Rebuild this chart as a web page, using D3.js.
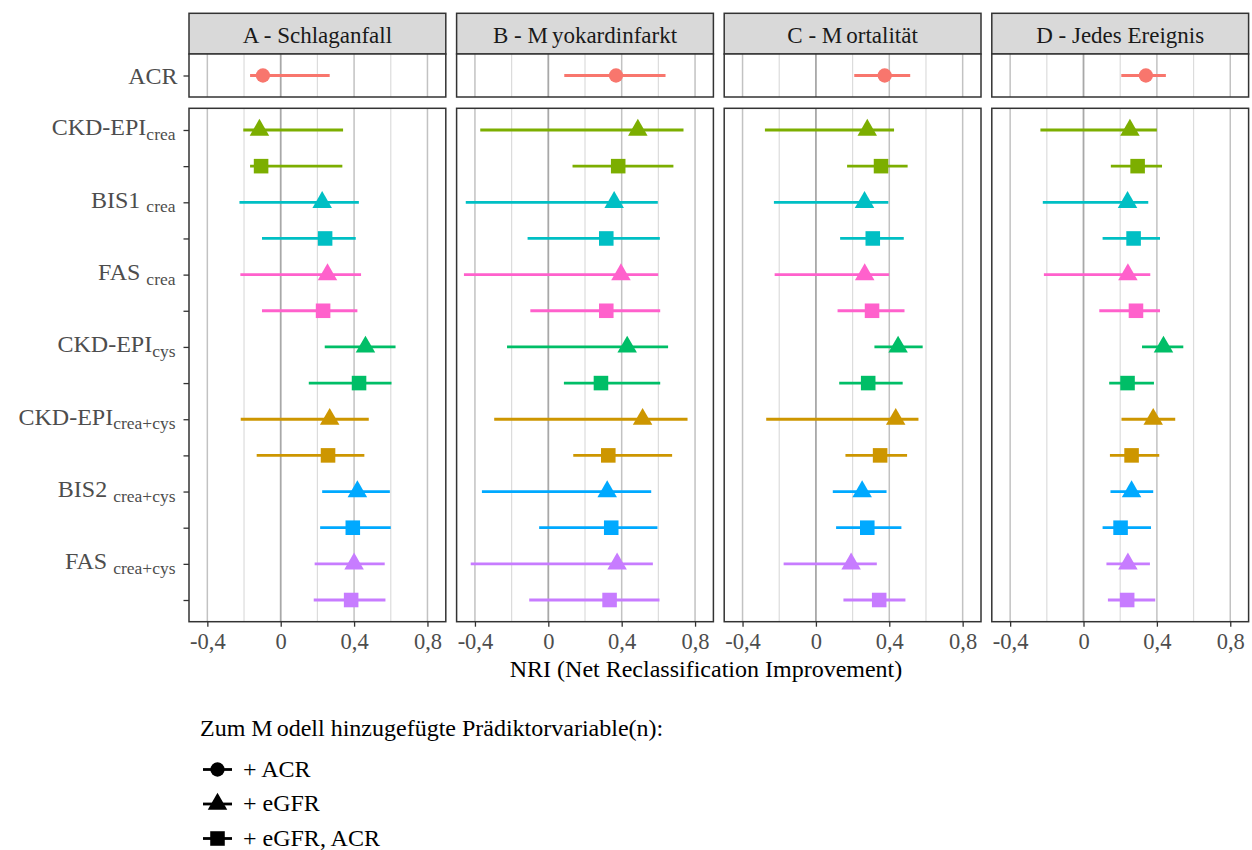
<!DOCTYPE html>
<html>
<head>
<meta charset="utf-8">
<script src="https://cdn.jsdelivr.net/npm/d3@7"></script>
<style>
  body { margin: 0; background: #fff; }
  svg { display: block; font-family: "Liberation Serif", "Times New Roman", serif; }
</style>
</head>
<body>
<svg id="chart" width="1252" height="850"></svg>
<script>
// ---- Data -------------------------------------------------------------
const outcomes = ["A - Schlaganfall", "B - Myokardinfarkt", "C - Mortalität", "D - Jedes Ereignis"];

// eGFR equations (main name + subscript) and their colours
const predictorMain = ["CKD-EPI", "BIS1", "FAS", "CKD-EPI", "CKD-EPI", "BIS2", "FAS"];
const predictorSub = ["crea", "crea", "crea", "cys", "crea+cys", "crea+cys", "crea+cys"];
const predictorSubGap = [false, true, true, false, false, true, true];
const predictorColors = ["#7CAE00", "#00BFC4", "#FF61CC", "#00BE67", "#CD9600", "#00A9FF", "#C77CFF"];
const acrColor = "#F8766D";

const modelLabels = ["+ ACR", "+ eGFR", "+ eGFR, ACR"];
const legendTitle = "Zum Modell hinzugefügte Prädiktorvariable(n):";
const xTitle = "NRI (Net Reclassification Improvement)";
const xTicks = [-0.4, 0, 0.4, 0.8];
const xMinor = [-0.2, 0.2, 0.6];

// Model + ACR only (one value per outcome)
const acrEst  = [-0.097, 0.369, 0.375, 0.340];
const acrLow  = [-0.167, 0.087, 0.209, 0.206];
const acrHigh = [ 0.267, 0.639, 0.514, 0.449];

// Model + eGFR (rows: outcomes, columns: predictors)
const egfrEst = [
  [-0.116, 0.226, 0.255, 0.462, 0.267, 0.418, 0.400],
  [ 0.488, 0.359, 0.396, 0.430, 0.514, 0.321, 0.375],
  [ 0.280, 0.265, 0.266, 0.448, 0.435, 0.252, 0.192],
  [ 0.253, 0.240, 0.242, 0.436, 0.380, 0.262, 0.242]
];
const egfrLow = [
  [-0.204, -0.225, -0.220, 0.240, -0.218, 0.226, 0.185],
  [-0.371, -0.450, -0.460, -0.225, -0.295, -0.362, -0.423],
  [-0.278, -0.229, -0.225, 0.319, -0.271, 0.092, -0.176],
  [-0.235, -0.222, -0.216, 0.319, 0.207, 0.147, 0.125]
];
const egfrHigh = [
  [0.340, 0.426, 0.438, 0.626, 0.480, 0.595, 0.567],
  [0.737, 0.597, 0.599, 0.653, 0.759, 0.561, 0.570],
  [0.426, 0.395, 0.399, 0.582, 0.559, 0.385, 0.332],
  [0.400, 0.353, 0.364, 0.544, 0.500, 0.380, 0.362]
];

// Model + eGFR + ACR
const bothEst = [
  [-0.107, 0.242, 0.231, 0.427, 0.258, 0.393, 0.384],
  [ 0.381, 0.316, 0.316, 0.287, 0.327, 0.343, 0.334],
  [ 0.355, 0.310, 0.306, 0.285, 0.350, 0.280, 0.345],
  [ 0.295, 0.273, 0.286, 0.240, 0.262, 0.202, 0.238]
];
const bothLow = [
  [-0.167, -0.102, -0.102, 0.153, -0.131, 0.215, 0.180],
  [ 0.132, -0.113, -0.098, 0.085, 0.136, -0.050, -0.104],
  [ 0.170, 0.132, 0.118, 0.127, 0.161, 0.110, 0.150],
  [ 0.149, 0.104, 0.086, 0.140, 0.144, 0.104, 0.133]
];
const bothHigh = [
  [0.336, 0.409, 0.418, 0.604, 0.456, 0.600, 0.571],
  [0.682, 0.608, 0.610, 0.610, 0.675, 0.595, 0.606],
  [0.500, 0.479, 0.483, 0.473, 0.497, 0.466, 0.488],
  [0.428, 0.417, 0.417, 0.384, 0.413, 0.368, 0.391]
];

// ---- Layout -----------------------------------------------------------
const svg = d3.select("#chart");
const panelLeft = 189, panelStep = 267.6, panelW = 256.8;
const stripTop = 13.3, stripBottom = 54, topBottom = 97;
const lowTop = 108.3, lowBottom = 621.7;
const xDomain = [-0.5, 0.9];
const borderColor = "#333333";

const rowIds = d3.range(predictorMain.length * 2).map(i => "r" + i);
const yLow = d3.scalePoint().domain(rowIds).range([lowTop, lowBottom]).padding(0.6);
const yTop = d3.scalePoint().domain(["ACR"]).range([stripBottom, topBottom]).padding(0.6);

const symTri = d3.symbol().type(d3.symbolTriangle).size(165);
const symSq = d3.symbol().type(d3.symbolSquare).size(212);
const symCirc = d3.symbol().type(d3.symbolCircle).size(160);

const fmt = v => (v === 0 ? "0" : d3.format(".1f")(v).replace(".", ",").replace("−", "-"));

// Text with a small gap after a capital M, as set in the figure's typeface
function spacedText(sel, str) {
  const parts = str.split(/(?<=M)/);
  parts.forEach((p, i) => {
    sel.append("tspan").attr("dx", i > 0 ? 4 : null).text(p);
  });
}

function drawGrid(g, x, y0, y1) {
  g.selectAll(null).data(xMinor).join("line")
    .attr("x1", d => x(d)).attr("x2", d => x(d)).attr("y1", y0).attr("y2", y1)
    .attr("stroke", "#dcdcdc").attr("stroke-width", 1.2);
  g.selectAll(null).data(xTicks.filter(d => d !== 0)).join("line")
    .attr("x1", d => x(d)).attr("x2", d => x(d)).attr("y1", y0).attr("y2", y1)
    .attr("stroke", "#c2c2c2").attr("stroke-width", 1.5);
  g.append("line")
    .attr("x1", x(0)).attr("x2", x(0)).attr("y1", y0).attr("y2", y1)
    .attr("stroke", "#a8a8a8").attr("stroke-width", 1.8);
}

function drawEstimate(g, x, y, est, lo, hi, color, sym) {
  g.append("line")
    .attr("x1", x(lo)).attr("x2", x(hi)).attr("y1", y).attr("y2", y)
    .attr("stroke", color).attr("stroke-width", 2.8);
  g.append("path")
    .attr("d", sym())
    .attr("transform", `translate(${x(est)},${y})`)
    .attr("fill", color);
}

outcomes.forEach((name, i) => {
  const x0 = panelLeft + i * panelStep;
  const x = d3.scaleLinear().domain(xDomain).range([x0, x0 + panelW]);
  const g = svg.append("g");

  // strip
  g.append("rect")
    .attr("x", x0).attr("y", stripTop).attr("width", panelW).attr("height", stripBottom - stripTop)
    .attr("fill", "#d9d9d9").attr("stroke", borderColor).attr("stroke-width", 1.5);
  const st = g.append("text")
    .attr("x", x0 + panelW / 2).attr("y", 43.3)
    .attr("text-anchor", "middle").attr("font-size", 23).attr("fill", "#1a1a1a");
  spacedText(st, name);

  // top panel (ACR)
  g.append("rect").attr("x", x0).attr("y", stripBottom).attr("width", panelW)
    .attr("height", topBottom - stripBottom).attr("fill", "#fff");
  drawGrid(g, x, stripBottom, topBottom);
  drawEstimate(g, x, yTop("ACR"), acrEst[i], acrLow[i], acrHigh[i], acrColor, symCirc);
  g.append("rect").attr("x", x0).attr("y", stripBottom).attr("width", panelW)
    .attr("height", topBottom - stripBottom).attr("fill", "none")
    .attr("stroke", borderColor).attr("stroke-width", 1.5);

  // lower panel (eGFR equations)
  g.append("rect").attr("x", x0).attr("y", lowTop).attr("width", panelW)
    .attr("height", lowBottom - lowTop).attr("fill", "#fff");
  drawGrid(g, x, lowTop, lowBottom);
  predictorMain.forEach((_, p) => {
    drawEstimate(g, x, yLow(rowIds[2 * p]), egfrEst[i][p], egfrLow[i][p], egfrHigh[i][p], predictorColors[p], symTri);
    drawEstimate(g, x, yLow(rowIds[2 * p + 1]), bothEst[i][p], bothLow[i][p], bothHigh[i][p], predictorColors[p], symSq);
  });
  g.append("rect").attr("x", x0).attr("y", lowTop).attr("width", panelW)
    .attr("height", lowBottom - lowTop).attr("fill", "none")
    .attr("stroke", borderColor).attr("stroke-width", 1.5);

  // x axis
  const ax = g.append("g").attr("transform", `translate(0,${lowBottom})`)
    .call(d3.axisBottom(x).tickValues(xTicks).tickFormat(fmt).tickSize(5).tickPadding(6.5));
  ax.select(".domain").remove();
  ax.selectAll(".tick line").attr("stroke", borderColor).attr("stroke-width", 1.3);
  ax.selectAll(".tick text").attr("font-size", 22.5).attr("fill", "#4d4d4d")
    .attr("font-family", "Liberation Serif, Times New Roman, serif");
});

// ---- Y axes (left of first column) -----------------------------------
const axLeft = panelLeft;
const yAxisTop = svg.append("g").attr("transform", `translate(${axLeft},0)`)
  .call(d3.axisLeft(yTop).tickSize(5.5).tickFormat(""));
yAxisTop.select(".domain").remove();
yAxisTop.selectAll(".tick line").attr("stroke", borderColor).attr("stroke-width", 1.3);

const yAxisLow = svg.append("g").attr("transform", `translate(${axLeft},0)`)
  .call(d3.axisLeft(yLow).tickSize(5.5).tickFormat(""));
yAxisLow.select(".domain").remove();
yAxisLow.selectAll(".tick line").attr("stroke", borderColor).attr("stroke-width", 1.3);

const labelX = axLeft - 11.5;
svg.append("text")
  .attr("x", labelX).attr("y", yTop("ACR") + 8.5)
  .attr("text-anchor", "end").attr("font-size", 24).attr("fill", "#4d4d4d")
  .text("ACR");

predictorMain.forEach((m, p) => {
  const y = yLow(rowIds[2 * p]);
  const t = svg.append("text")
    .attr("x", labelX - 2).attr("y", y + 5.5)
    .attr("text-anchor", "end").attr("font-size", 24).attr("fill", "#4d4d4d");
  t.append("tspan").text(m);
  t.append("tspan")
    .attr("dx", predictorSubGap[p] ? 6 : 0).attr("dy", 4.5)
    .attr("font-size", 17.5).text(predictorSub[p]);
});

// ---- Axis title -------------------------------------------------------
svg.append("text")
  .attr("x", 706).attr("y", 677)
  .attr("text-anchor", "middle").attr("font-size", 24).attr("fill", "#000")
  .text(xTitle);

// ---- Legend -------------------------------------------------------------
const lg = svg.append("g");
const lt = lg.append("text").attr("x", 200).attr("y", 736)
  .attr("font-size", 24).attr("fill", "#000");
spacedText(lt, legendTitle);

const legendSyms = [symCirc, symTri, symSq];
modelLabels.forEach((lab, k) => {
  const cy = 769.5 + k * 34.5;
  lg.append("line").attr("x1", 203).attr("x2", 232).attr("y1", cy).attr("y2", cy)
    .attr("stroke", "#000").attr("stroke-width", 2.8);
  lg.append("path").attr("d", legendSyms[k]()).attr("transform", `translate(217.5,${cy})`)
    .attr("fill", "#000");
  lg.append("text").attr("x", 243).attr("y", cy + 7)
    .attr("font-size", 24).attr("fill", "#000").text(lab);
});
</script>
</body>
</html>
